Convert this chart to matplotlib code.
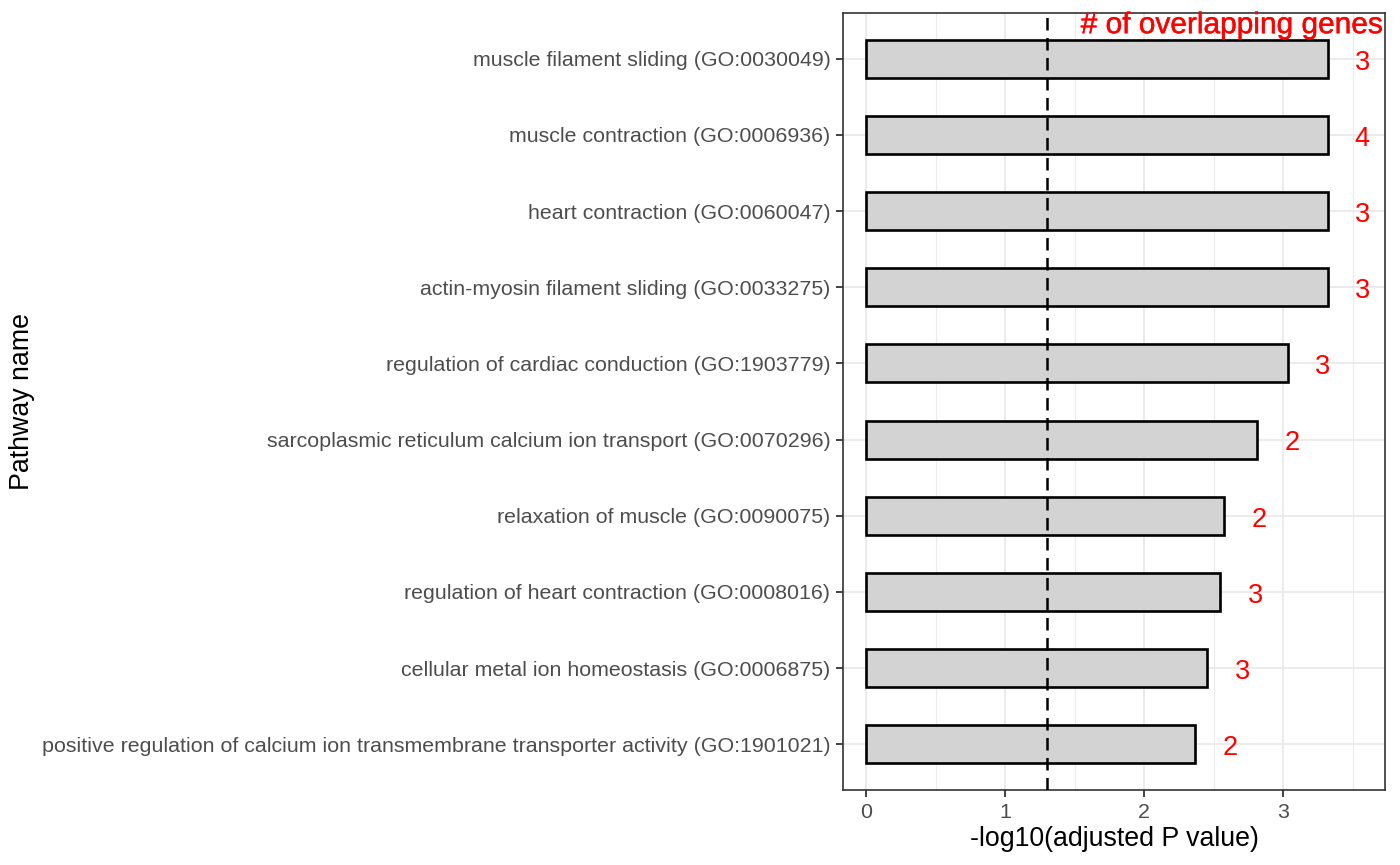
import matplotlib
matplotlib.use("Agg")
import matplotlib.pyplot as plt
import matplotlib.patheffects as pe
from matplotlib.ticker import MultipleLocator

plt.rcParams['font.family'] = ['Liberation Sans', 'DejaVu Sans']

pathways = [
    "muscle filament sliding (GO:0030049)",
    "muscle contraction (GO:0006936)",
    "heart contraction (GO:0060047)",
    "actin-myosin filament sliding (GO:0033275)",
    "regulation of cardiac conduction (GO:1903779)",
    "sarcoplasmic reticulum calcium ion transport (GO:0070296)",
    "relaxation of muscle (GO:0090075)",
    "regulation of heart contraction (GO:0008016)",
    "cellular metal ion homeostasis (GO:0006875)",
    "positive regulation of calcium ion transmembrane transporter activity (GO:1901021)",
]
neglog10_padj = [3.317, 3.317, 3.317, 3.317, 3.03, 2.81, 2.576, 2.547, 2.453, 2.367]
n_genes = [3, 4, 3, 3, 3, 2, 2, 3, 3, 2]
threshold = 1.30103  # -log10(0.05)
x_ticks = [0, 1, 2, 3]

fig = plt.figure(figsize=(14, 8.65), dpi=100)
ax = fig.add_axes([843/1400, 1-790/865, (1385-843)/1400, (790-13)/865])

n = len(pathways)
ypos = [n - i for i in range(n)]  # top item at n

ax.barh(ypos, neglog10_padj, height=0.5, color='#D3D3D3', edgecolor='black',
        linewidth=1.9, zorder=3)
ax.axvline(threshold, color='black', linestyle=(0, (5, 3)), linewidth=1.8, zorder=4)

for y, v, c in zip(ypos, neglog10_padj, n_genes):
    ax.text(v + 0.25, y - 0.05, str(c), color='red', fontsize=19.5, ha='center',
            va='center', zorder=5)

ax.text(2.63, 10.44, "# of overlapping genes", color='red', fontsize=21.5,
        ha='center', va='center', zorder=5, clip_on=False,
        path_effects=[pe.withStroke(linewidth=0.3, foreground='red')])

ax.set_xlim(-0.165, 3.73)
ax.set_ylim(0.4, n + 0.6)
ax.set_yticks(ypos)
ax.set_yticklabels(pathways)
ax.set_xticks(x_ticks)
ax.xaxis.set_minor_locator(MultipleLocator(0.5))
ax.tick_params(axis='x', which='minor', length=0)
ax.tick_params(axis='both', which='major', length=5, width=1.3, color='#333333',
               labelsize=15.4, labelcolor='#4D4D4D', pad=4)

ax.grid(True, which='major', color='#EBEBEB', linewidth=1.4, zorder=0)
ax.grid(True, which='minor', axis='x', color='#EBEBEB', linewidth=0.8, zorder=0)
ax.set_axisbelow(True)
for s in ax.spines.values():
    s.set_color('#333333')
    s.set_linewidth(1.2)

ax.set_xlabel("-log10(adjusted P value)", fontsize=19.3, color='black', labelpad=3)
ax.set_ylabel("Pathway name", fontsize=19.3, color='black')
ax.yaxis.label.set_va('center')
ax.yaxis.set_label_coords((22 - 843) / 542, 0.5)

fig.savefig("out.png", dpi=100)
